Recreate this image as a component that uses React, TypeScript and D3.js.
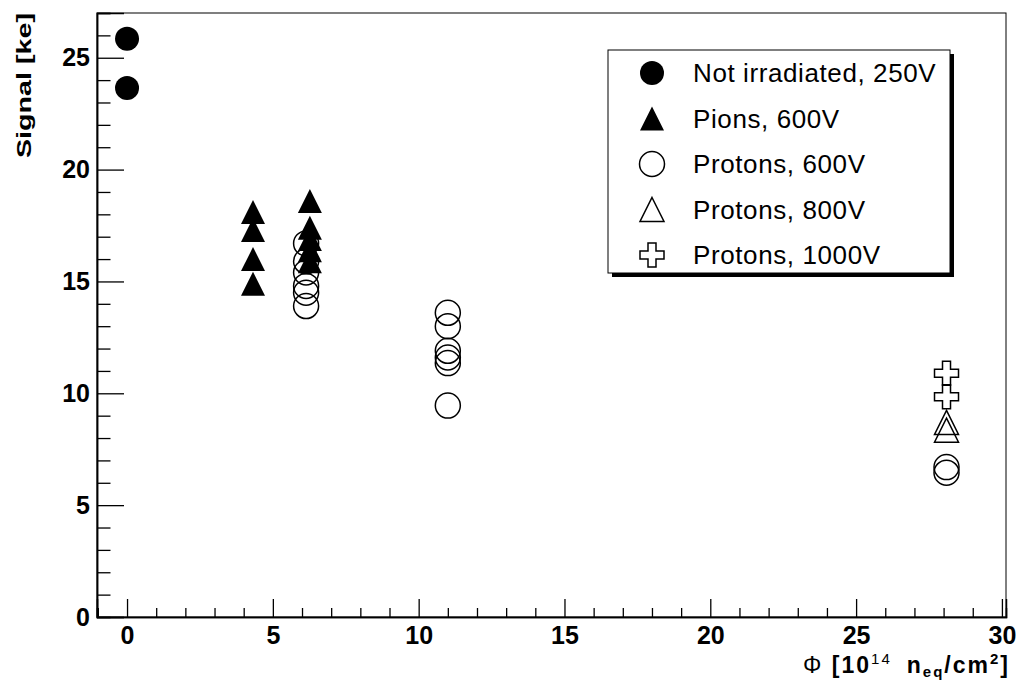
import { useEffect, useRef } from 'react';
import * as d3 from 'd3';

// series labels (legend order)
const seriesNames = [
  'Not irradiated, 250V',
  'Pions, 600V',
  'Protons, 600V',
  'Protons, 800V',
  'Protons, 1000V',
];

// fluence [1e14 neq/cm2] and signal [ke]
const notIrrX = [0, 0];
const notIrrY = [25.85, 23.65];

const pionsX = [4.32, 4.32, 4.32, 4.32, 6.27, 6.27, 6.27, 6.27, 6.27];
const pionsY = [18.1, 17.3, 16.0, 14.9, 18.6, 17.4, 16.9, 16.4, 15.9];

const p600X = [6.14, 6.14, 6.14, 6.14, 6.14, 6.14, 11.0, 11.0, 11.0, 11.0, 11.0, 11.0, 28.1, 28.1];
const p600Y = [16.7, 15.9, 15.4, 14.8, 14.5, 13.9, 13.6, 13.0, 11.9, 11.6, 11.35, 9.45, 6.7, 6.45];

const p800X = [28.1, 28.1];
const p800Y = [8.7, 8.35];

const p1000X = [28.1, 28.1];
const p1000Y = [10.9, 9.85];

const xMajor = [0, 5, 10, 15, 20, 25, 30];
const yMajor = [0, 5, 10, 15, 20, 25];

type Marker = 'dot' | 'tri' | 'circle' | 'openTri' | 'cross';
const markers: Marker[] = ['dot', 'tri', 'circle', 'openTri', 'cross'];

const W = 1020;
const H = 680;
const frame = { left: 97, right: 1006, top: 13, bottom: 617 };

// path for one marker centred at 0,0
const markerPath = (m: Marker) => {
  if (m === 'dot' || m === 'circle') {
    const r = m === 'dot' ? 12 : 12.5;
    return `M${-r},0A${r},${r} 0 1,0 ${r},0A${r},${r} 0 1,0 ${-r},0Z`;
  }
  if (m === 'tri' || m === 'openTri') {
    return 'M0,-12L12,12L-12,12Z';
  }
  // open cross
  const a = 4;
  const e = 12;
  return `M${-a},${-e}H${a}V${-a}H${e}V${a}H${a}V${e}H${-a}V${a}H${-e}V${-a}H${-a}Z`;
};

const styleMarker = (sel: d3.Selection<SVGPathElement, any, any, any>, m: Marker) => {
  const filled = m === 'dot' || m === 'tri';
  sel
    .attr('d', markerPath(m))
    .attr('fill', filled ? '#000' : 'none')
    .attr('stroke', '#000')
    .attr('stroke-width', filled ? 0 : 1.5);
};

const App = () => {
  const svgRef = useRef<SVGSVGElement>(null);

  useEffect(() => {
    if (!svgRef.current) return;
    const svg = d3.select(svgRef.current);
    svg.selectAll('*').remove();

    const x = d3.scaleLinear().domain([-1.03, 30.14]).range([frame.left, frame.right]);
    const y = d3.scaleLinear().domain([0, 27]).range([frame.bottom, frame.top]);

    svg.append('rect').attr('width', W).attr('height', H).attr('fill', '#fff');

    // frame
    svg
      .append('rect')
      .attr('x', frame.left)
      .attr('y', frame.top)
      .attr('width', frame.right - frame.left)
      .attr('height', frame.bottom - frame.top)
      .attr('fill', 'none')
      .attr('stroke', '#000')
      .attr('stroke-width', 1);

    const font = '"Liberation Sans", Arial, Helvetica, sans-serif';

    // x axis: minor ticks then major ticks with labels
    const xMinor = d3.range(-1, 31, 1).filter((v) => v % 5 !== 0);
    const gxMinor = svg
      .append('g')
      .attr('transform', `translate(0,${frame.bottom})`)
      .call(d3.axisBottom(x).tickValues(xMinor).tickSize(-9).tickFormat(() => ''));
    const gx = svg
      .append('g')
      .attr('transform', `translate(0,${frame.bottom})`)
      .call(d3.axisBottom(x).tickValues(xMajor).tickSize(-18).tickPadding(9).tickFormat(d3.format('d')));

    const yMinor = d3.range(0, 28, 1).filter((v) => v % 5 !== 0);
    const gyMinor = svg
      .append('g')
      .attr('transform', `translate(${frame.left},0)`)
      .call(d3.axisLeft(y).tickValues(yMinor).tickSize(-13.5).tickFormat(() => ''));
    const gy = svg
      .append('g')
      .attr('transform', `translate(${frame.left},0)`)
      .call(d3.axisLeft(y).tickValues(yMajor).tickSize(-27).tickPadding(7).tickFormat(d3.format('d')));

    [gxMinor, gx, gyMinor, gy].forEach((g) => {
      g.select('.domain').attr('stroke', '#000').attr('stroke-width', 1.5);
      g.selectAll('.tick line').attr('stroke', '#000').attr('stroke-width', 1.3);
      g.selectAll('.tick text')
        .attr('fill', '#000')
        .style('font-family', font)
        .style('font-size', '25px')
        .style('font-weight', 'bold');
    });

    // axis titles
    svg
      .append('text')
      .attr('transform', `translate(31,${frame.top}) rotate(-90)`)
      .attr('text-anchor', 'end')
      .attr('textLength', 145)
      .attr('lengthAdjust', 'spacingAndGlyphs')
      .style('font-family', font)
      .style('font-size', '21px')
      .style('font-weight', 'bold')
      .text('Signal [ke]');

    const xt = svg
      .append('text')
      .attr('x', 1010)
      .attr('y', 673)
      .attr('text-anchor', 'end')
      .style('font-family', font)
      .style('font-size', '23px')
      .style('letter-spacing', '2px')
      .style('font-weight', 'bold');
    xt.append('tspan').style('font-weight', 'normal').text('\u03A6 ');
    xt.append('tspan').text('[10');
    xt.append('tspan').attr('dy', -9).style('font-size', '15px').style('font-weight', 'normal').text('14');
    xt.append('tspan').attr('dy', 9).text('\u2009 n');
    xt.append('tspan').attr('dy', 4).style('font-size', '15px').text('eq');
    xt.append('tspan').attr('dy', -4).text('/cm');
    xt.append('tspan').attr('dy', -9).style('font-size', '15px').text('2');
    xt.append('tspan').attr('dy', 9).text(']');

    // data
    const series = [
      { xs: notIrrX, ys: notIrrY },
      { xs: pionsX, ys: pionsY },
      { xs: p600X, ys: p600Y },
      { xs: p800X, ys: p800Y },
      { xs: p1000X, ys: p1000Y },
    ];
    const drawOrder = [2, 3, 4, 0, 1];
    drawOrder.forEach((i) => {
      const s = series[i];
      const pts = s.xs.map((v, k) => [v, s.ys[k]] as [number, number]);
      svg
        .append('g')
        .selectAll('path')
        .data(pts)
        .enter()
        .append('path')
        .attr('transform', (d) => `translate(${x(d[0])},${y(d[1])})`)
        .call((sel: any) => styleMarker(sel, markers[i]));
    });

    // legend with shadow
    const lg = { x: 608, y: 50, w: 342, h: 223 };
    svg
      .append('rect')
      .attr('x', lg.x + 4)
      .attr('y', lg.y + 4)
      .attr('width', lg.w)
      .attr('height', lg.h)
      .attr('fill', '#000');
    svg
      .append('rect')
      .attr('x', lg.x)
      .attr('y', lg.y)
      .attr('width', lg.w)
      .attr('height', lg.h)
      .attr('fill', '#fff')
      .attr('stroke', '#000')
      .attr('stroke-width', 1);

    const rowY = d3.scalePoint<number>().domain(d3.range(seriesNames.length)).range([73, 255]);
    const rows = svg
      .append('g')
      .selectAll('g')
      .data(seriesNames)
      .enter()
      .append('g')
      .attr('transform', (_d, i) => `translate(0,${rowY(i)})`);
    rows.each(function (_d, i) {
      const g = d3.select(this);
      g.append('path')
        .attr('transform', 'translate(652,0)')
        .call((sel: any) => styleMarker(sel, markers[i]));
      g.append('text')
        .attr('x', 693)
        .attr('dy', '0.36em')
        .style('font-family', font)
        .style('font-size', '26px')
        .style('letter-spacing', '0.6px')
        .text(seriesNames[i]);
    });
  }, []);

  return (
    <svg
      ref={svgRef}
      width={W}
      height={H}
      style={{ position: 'absolute', left: 0, top: 0, display: 'block' }}
    />
  );
};

export default App;
